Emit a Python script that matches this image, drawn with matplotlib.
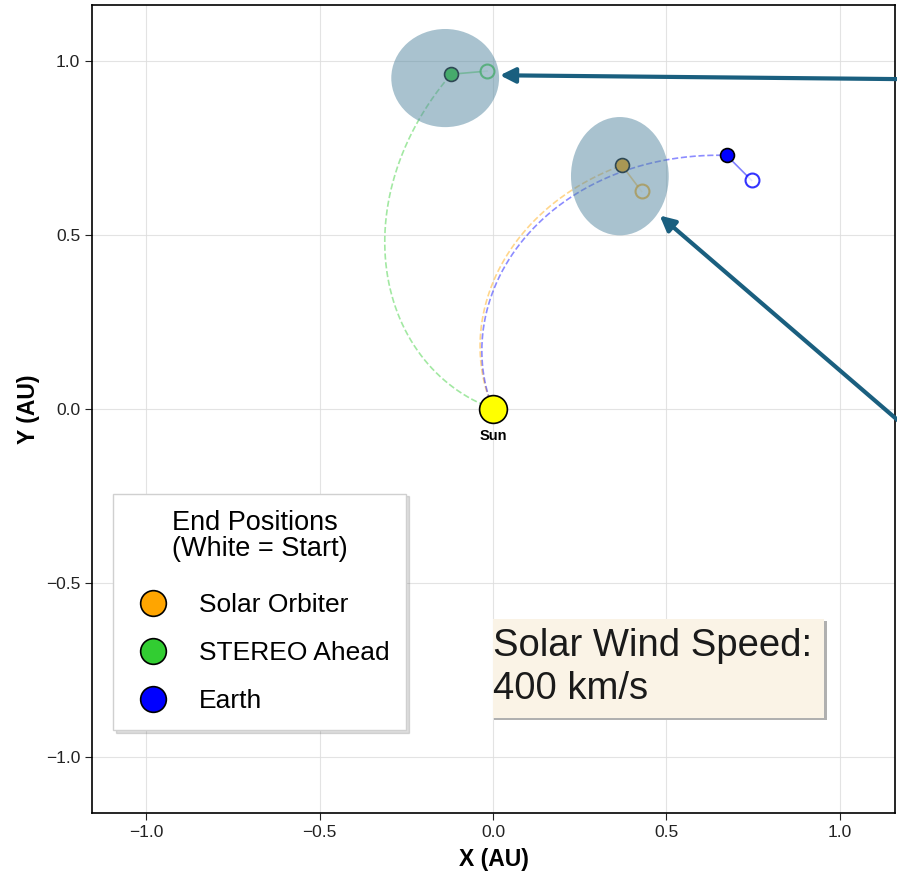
import numpy as np
import matplotlib
matplotlib.use("Agg")
import matplotlib.pyplot as plt
from matplotlib.patches import Ellipse, Rectangle
from matplotlib.lines import Line2D

plt.rcParams['font.family'] = ['Liberation Sans', 'DejaVu Sans']

# Spacecraft / planet positions in the ecliptic plane (AU)
names = ["Solar Orbiter", "STEREO Ahead", "Earth"]
colors = ["#FFA500", "#32CD32", "#0000FF"]
start_x = [0.429, -0.017, 0.746]
start_y = [0.624, 0.970, 0.656]
end_x = [0.372, -0.121, 0.674]
end_y = [0.699, 0.961, 0.728]

wind_speed_kms = 400.0
omega_sun = 3.05e-6          # rad/s
au_km = 1.496e8

# Highlighted regions (centre x, centre y, width, height) in AU
regions_cx = [-0.138, 0.366]
regions_cy = [0.950, 0.668]
regions_w = [0.311, 0.282]
regions_h = [0.282, 0.340]

# Pointer arrows (tail -> head) in AU
arrow_tail_x = [1.17, 1.17]
arrow_tail_y = [0.947, -0.035]
arrow_head_x = [0.020, 0.481]
arrow_head_y = [0.958, 0.555]

fig = plt.figure(figsize=(8.97, 8.74), dpi=100)
ax = fig.add_axes([0.1026, 0.0698, 0.8952, 0.9245])
ax.set_xlim(-1.157, 1.16)
ax.set_ylim(-1.162, 1.16)

ax.grid(True, color="#dddddd", linewidth=0.8, alpha=0.8)
ax.set_axisbelow(True)

# Parker spiral field lines connecting each end position to the Sun
k = omega_sun * au_km / wind_speed_kms
for xe, ye, c in zip(end_x, end_y, colors):
    r_end = np.hypot(xe, ye)
    phi_end = np.arctan2(ye, xe)
    r = np.linspace(0.0, r_end, 300)
    phi = phi_end + k * (r_end - r)
    ax.plot(r * np.cos(phi), r * np.sin(phi), linestyle="--", color=c,
            alpha=0.45, linewidth=1.2, zorder=2)

# Movement from start to end position
for xs, ys, xe, ye, c in zip(start_x, start_y, end_x, end_y, colors):
    ax.plot([xs, xe], [ys, ye], color=c, alpha=0.5, linewidth=1.2, zorder=3)
    ax.plot(xs, ys, "o", markersize=10, markerfacecolor="white",
            markeredgecolor=c, markeredgewidth=1.5, alpha=0.8, zorder=4)
    ax.plot(xe, ye, "o", markersize=10, markerfacecolor=c,
            markeredgecolor="black", markeredgewidth=1.2, zorder=5)

# Sun
ax.plot(0, 0, "o", markersize=20, markerfacecolor="yellow",
        markeredgecolor="black", markeredgewidth=1.2, zorder=6)
ax.text(0, -0.078, "Sun", ha="center", va="center", fontsize=10.5,
        fontweight="bold", zorder=6)

# Highlighted regions
for cx, cy, w, h in zip(regions_cx, regions_cy, regions_w, regions_h):
    ax.add_patch(Ellipse((cx, cy), w, h, facecolor="#5a8ba3", alpha=0.52,
                         edgecolor="none", zorder=7))

# Pointer arrows
for tx, ty, hx, hy in zip(arrow_tail_x, arrow_tail_y, arrow_head_x, arrow_head_y):
    ax.annotate("", xy=(hx, hy), xytext=(tx, ty), annotation_clip=False,
                arrowprops=dict(arrowstyle="-|>,head_length=0.9,head_width=0.45",
                                color="#1a5f7f", linewidth=3.0,
                                shrinkA=0, shrinkB=0),
                zorder=8)

# Legend
handles = [Line2D([], [], linestyle="none", marker="o", markersize=10,
                  markerfacecolor=c, markeredgecolor="black",
                  markeredgewidth=1.2, label=n)
           for n, c in zip(names, colors)]
leg = ax.legend(handles=handles, title="End Positions\n(White = Start)",
                loc="lower left", bbox_to_anchor=(0.026, 0.103),
                borderaxespad=0, fontsize=19, title_fontsize=19.5,
                markerscale=1.85, frameon=True, fancybox=False, framealpha=1,
                edgecolor="#d0d0d0", labelspacing=0.92, handlelength=1.8,
                handletextpad=0.85, borderpad=0.62,
                shadow={"alpha": 0.18, "ox": 2, "oy": -2})
leg.get_title().set_linespacing(1.02)
leg._legend_box.sep = 22
leg.set_zorder(9)

# Solar wind speed box
ax.add_patch(Rectangle((0.003, -0.895), 0.96, 0.285, facecolor="#b0b0b0",
                       edgecolor="none", zorder=8.9))
ax.add_patch(Rectangle((0.0, -0.889), 0.955, 0.285, facecolor="#faf3e6",
                       edgecolor="none", zorder=9))
ax.text(0.0, -0.7425, "Solar Wind Speed:\n400 km/s", fontsize=27.5,
        ha="left", va="center", color="#1a1a1a", linespacing=1.25,
        zorder=10)

ax.set_xticks([-1.0, -0.5, 0.0, 0.5, 1.0])
ax.set_yticks([-1.0, -0.5, 0.0, 0.5, 1.0])
ax.tick_params(labelsize=12.5, length=5, colors="#222222")
ax.set_xlabel("X (AU)", fontsize=16.5, fontweight="bold", labelpad=6)
ax.set_ylabel("Y (AU)", fontsize=16.5, fontweight="bold", labelpad=4)
for s in ax.spines.values():
    s.set_linewidth(1.2)

fig.savefig("out.png", dpi=100)
